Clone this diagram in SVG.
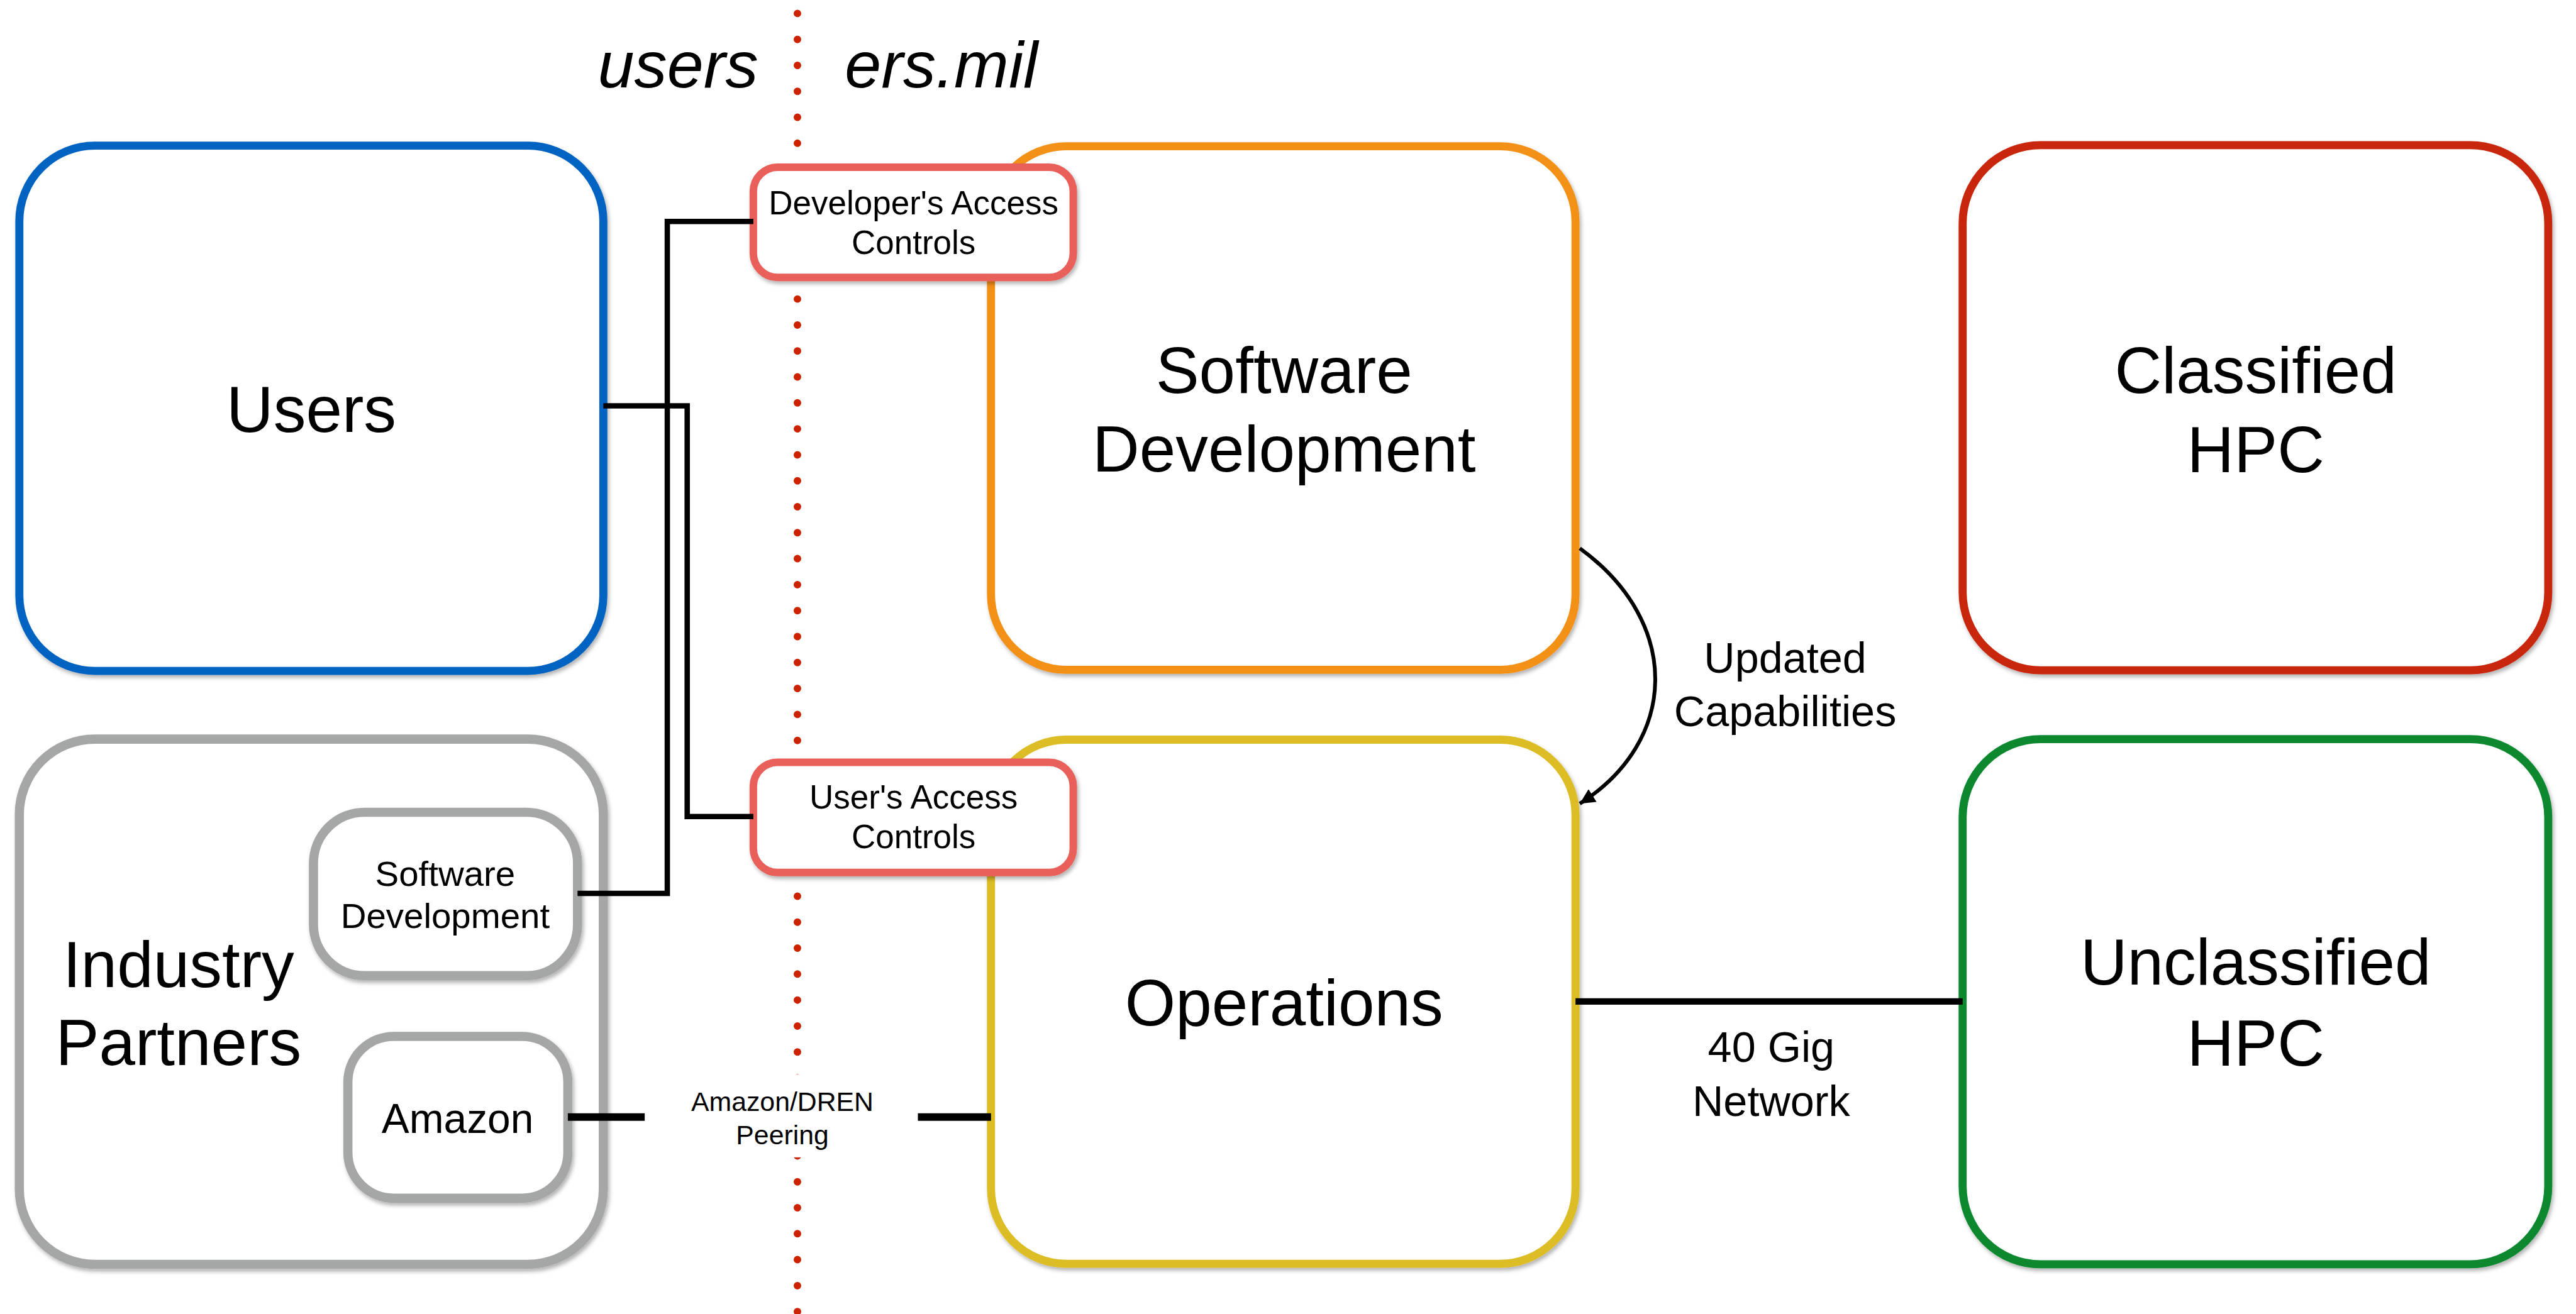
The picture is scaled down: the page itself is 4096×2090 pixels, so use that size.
<svg xmlns="http://www.w3.org/2000/svg" width="4096" height="2090" viewBox="0 0 4096 2090">
<defs>
<filter id="sh" x="-5%" y="-5%" width="110%" height="115%">
<feDropShadow dx="3" dy="5" stdDeviation="4" flood-color="#000" flood-opacity="0.3"/>
</filter>
<marker id="arr" viewBox="0 0 10 10" refX="10" refY="5" markerWidth="34" markerHeight="28" markerUnits="userSpaceOnUse" orient="auto">
<path d="M0,0 L10,5 L0,10 z" fill="#000"/>
</marker>
<style>
.box{fill:#fff;filter:url(#sh)}
.main{stroke-width:15}
.gray{stroke:#A5A7A6;stroke-width:17}
.acc{stroke:#E95F5A;stroke-width:14}
.t{font-family:"Liberation Sans",Arial,sans-serif;fill:#000;text-anchor:middle}
.big{font-size:121px}
.mid{font-size:62px}
.conn{fill:none;stroke:#000}
</style>
</defs>
<rect width="4096" height="2090" fill="#fff"/>
<g transform="scale(0.855)">
<g id="boundary">
<line x1="1483" y1="25" x2="1483" y2="2443" stroke="#CC2200" stroke-width="14" stroke-linecap="round" stroke-dasharray="0 48.3"/>
<text class="t" x="1410" y="163" style="font-size:122px;font-style:italic;text-anchor:end">users</text>
<text class="t" x="1571" y="163" style="font-size:122px;font-style:italic;text-anchor:start">ers.mil</text>
</g>
<g id="users">
<rect class="box main" x="36" y="271" width="1086" height="977" rx="140" stroke="#0563C1"/>
<text class="t big" x="579" y="804">Users</text>
</g>
<g id="industry-partners">
<rect class="box gray" x="36" y="1375" width="1086" height="977" rx="140"/>
<text class="t big" x="332" y="1836">Industry</text>
<text class="t big" x="332" y="1981">Partners</text>
</g>
<g id="industry-software-development">
<rect class="box gray" x="583" y="1511" width="491" height="304" rx="95"/>
<text class="t" x="828" y="1648" style="font-size:66px">Software</text>
<text class="t" x="828" y="1726" style="font-size:66px">Development</text>
</g>
<g id="amazon">
<rect class="box gray" x="647" y="1928" width="409" height="301" rx="85"/>
<text class="t" x="851" y="2108" style="font-size:77px">Amazon</text>
</g>
<g id="software-development">
<rect class="box main" x="1843" y="272" width="1087" height="974" rx="140" stroke="#F39019"/>
<text class="t big" x="2388" y="731">Software</text>
<text class="t big" x="2388" y="877">Development</text>
</g>
<g id="operations">
<rect class="box main" x="1843" y="1376" width="1087" height="975" rx="140" stroke="#DDBD27"/>
<text class="t big" x="2388" y="1908">Operations</text>
</g>
<g id="developers-access-controls">
<rect class="box acc" x="1401" y="311" width="595" height="205" rx="45"/>
<text class="t mid" x="1699" y="399">Developer's Access</text>
<text class="t mid" x="1699" y="473">Controls</text>
</g>
<g id="users-access-controls">
<rect class="box acc" x="1401" y="1418" width="595" height="205" rx="45"/>
<text class="t mid" x="1699" y="1504">User's Access</text>
<text class="t mid" x="1699" y="1578">Controls</text>
</g>
<g id="classified-hpc">
<rect class="box main" x="3650" y="270" width="1089" height="977" rx="145" stroke="#C8260C"/>
<text class="t big" x="4195" y="731">Classified</text>
<text class="t big" x="4195" y="878">HPC</text>
</g>
<g id="unclassified-hpc">
<rect class="box main" x="3650" y="1375" width="1089" height="977" rx="145" stroke="#07882D"/>
<text class="t big" x="4195" y="1832">Unclassified</text>
<text class="t big" x="4195" y="1983">HPC</text>
</g>
<g id="connectors">
<path class="conn" d="M1122 755 H1278 V1519 H1401" stroke-width="10"/>
<path class="conn" d="M1074 1662 H1241 V412 H1401" stroke-width="10"/>
<path class="conn" d="M1056 2078 H1843" stroke-width="14"/>
<path class="conn" d="M2930 1863 H3650" stroke-width="12"/>
<path class="conn" d="M2938 1020 C3130 1160 3120 1380 2938 1495" stroke-width="7" marker-end="url(#arr)"/>
<rect x="1199" y="1999" width="508" height="154" fill="#fff"/>
<text class="t" x="1455" y="2067" style="font-size:50px">Amazon/DREN</text>
<text class="t" x="1455" y="2129" style="font-size:50px">Peering</text>
<text class="t" x="3320" y="1251" style="font-size:80px">Updated</text>
<text class="t" x="3320" y="1351" style="font-size:80px">Capabilities</text>
<text class="t" x="3294" y="1976" style="font-size:80px">40 Gig</text>
<text class="t" x="3294" y="2076" style="font-size:80px">Network</text>
</g>
</g>
</svg>
